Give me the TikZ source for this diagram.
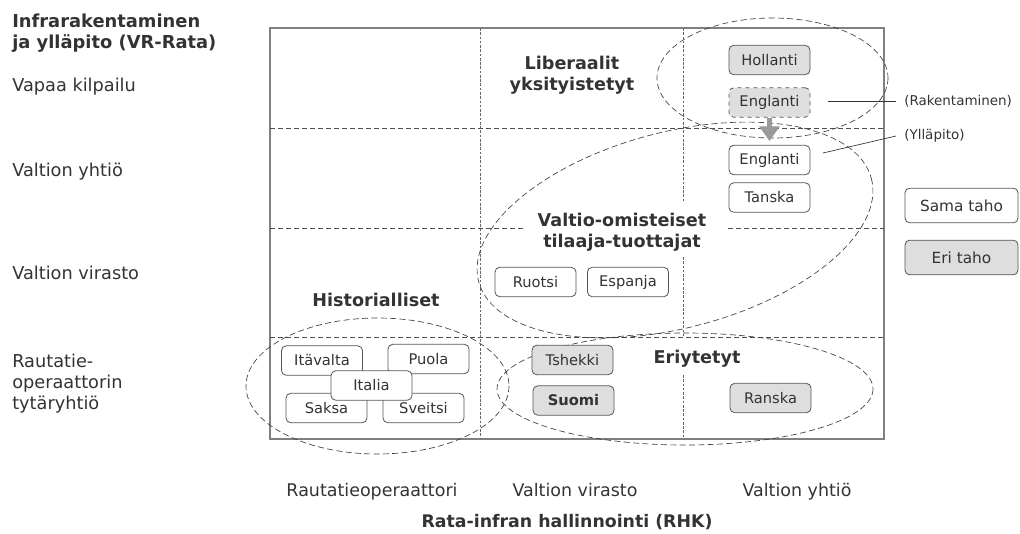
\documentclass[tikz,border=0pt]{standalone}
\usepackage{fontspec}
\setmainfont{DejaVu Sans}
\usetikzlibrary{arrows.meta}
\definecolor{txt}{HTML}{333333}
\definecolor{edge}{HTML}{555555}
\definecolor{gridc}{HTML}{808080}
\definecolor{stip}{HTML}{DEDEDE}
\begin{document}
\begin{tikzpicture}[x=0.75pt,y=-0.75pt,
  box/.style={draw=edge, line width=0.6pt, rounded corners=3.5pt, minimum width=60.75pt, minimum height=22pt, inner sep=1pt, font=\fontsize{11}{13}\selectfont, text=txt, fill=white},
  greybox/.style={box, fill=stip},
  legendbox/.style={box, minimum width=84.75pt, minimum height=26pt, font=\fontsize{11.5}{14}\selectfont},
  grp/.style={font=\bfseries\fontsize{13.2}{15.5}\selectfont, text=txt, align=center},
  rowlab/.style={anchor=base west, font=\fontsize{13.3}{16}\selectfont, text=txt, inner sep=0pt},
  headlab/.style={anchor=base west, font=\bfseries\fontsize{13.4}{16}\selectfont, text=txt, inner sep=0pt},
  collab/.style={anchor=base, font=\fontsize{13.1}{15}\selectfont, text=txt, inner sep=0pt},
  notelab/.style={anchor=west, font=\fontsize{10.1}{12}\selectfont, text=txt, inner sep=6pt},
  oval/.style={draw=black!75, line width=0.5pt, dash pattern=on 4.5pt off 2.5pt},
  hline/.style={draw=black!70, line width=0.6pt, dash pattern=on 4pt off 2pt},
  vline/.style={draw=black!60, line width=0.6pt, dash pattern=on 2pt off 1.2pt},
  leader/.style={draw=black!80, line width=0.5pt},
]
\useasboundingbox (0,0) rectangle (1020,533);

% grid
\draw[draw=gridc, line width=0.8pt] (270,28) rectangle (884,439);
\draw[hline] (270,128) -- (884,128);
\draw[hline] (270,228) -- (525,228);
\draw[hline] (728,228) -- (884,228);
\draw[hline] (270,337) -- (884,337);
\draw[vline] (480,28) -- (480,439);
\draw[vline] (683,28) -- (683,202);
\draw[vline] (683,257) -- (683,337);
\draw[vline] (683,375) -- (683,439);

% left labels
\node[headlab] (h1) at (12,27) {Infrarakentaminen};
\node[headlab] (h2) at (12,48) {ja ylläpito (VR-Rata)};
\node[rowlab] (r1) at (12,91) {Vapaa kilpailu};
\node[rowlab] (r2) at (12,176) {Valtion yhtiö};
\node[rowlab] (r3) at (12,279) {Valtion virasto};
\node[rowlab] (r4a) at (12,367) {Rautatie-};
\node[rowlab] (r4b) at (12,388) {operaattorin};
\node[rowlab] (r4c) at (12,409) {tytäryhtiö};

% bottom labels
\node[collab] (c1) at (372,496) {Rautatieoperaattori};
\node[collab] (c2) at (575,496) {Valtion virasto};
\node[collab] (c3) at (797,496) {Valtion yhtiö};
\node[collab, font=\bfseries\fontsize{13}{15}\selectfont] (ct) at (567,527) {Rata-infran hallinnointi (RHK)};

% group labels
\node[grp] (g1) at (572,75) {Liberaalit\\yksityistetyt};
\node[grp, font=\bfseries\fontsize{13.2}{15.8}\selectfont] (g2) at (622,232) {Valtio-omisteiset\\tilaaja-tuottajat};
\node[grp] (g3) at (376,300) {Historialliset};
\node[grp] (g4) at (697,359) {Eriytetyt};

% ellipses
\draw[oval] (772.5,78) ellipse [x radius=115.5, y radius=60];
\draw[oval, rotate around={14.7:(675,230)}] (675,230) ellipse [x radius=203, y radius=98];
\draw[oval] (377.5,386) ellipse [x radius=131.5, y radius=68];
\draw[oval] (685,389) ellipse [x radius=188, y radius=56];

% boxes
\node[greybox] (hol) at (769.5,60) {Hollanti};
\node[greybox, dashed] (engA) at (769.5,102.5) {Englanti};
\node[box] (engB) at (769.5,160) {Englanti};
\node[box] (tan) at (769.5,197.5) {Tanska};
\node[box] (ruo) at (535.5,282) {Ruotsi};
\node[box] (esp) at (628,282) {Espanja};
\node[box] (ita) at (322,360.5) {Itävalta};
\node[box] (puo) at (428.5,359) {Puola};
\node[box] (sak) at (326.5,408) {Saksa};
\node[box] (sve) at (423.5,408) {Sveitsi};
\node[box] (itl) at (371.5,385.5) {Italia};
\node[greybox] (tsh) at (572.5,360) {Tshekki};
\node[greybox, font=\bfseries\fontsize{11}{13}\selectfont] (suo) at (573.5,400.5) {Suomi};
\node[greybox] (ran) at (770.5,398) {Ranska};

% legend
\node[legendbox] (sama) at (961.5,205.5) {Sama taho};
\node[legendbox, fill=stip] (eri) at (961.5,257.5) {Eri taho};

% arrow
\draw[-{Triangle[width=15pt,length=11pt]}, line width=3.5pt, black!40, shorten >=3pt] (engA.south) -- (engB.north);

% notes
\node[notelab] (rak) at (896,101) {(Rakentaminen)};
\node[notelab] (yll) at (896,136) {(Ylläpito)};
\coordinate (rakS) at (828,101);
\coordinate (yllS) at (823,153);
\draw[leader] (rakS) -- (rak.west);
\draw[leader] (yllS) -- (yll.west);
\end{tikzpicture}
\end{document}
